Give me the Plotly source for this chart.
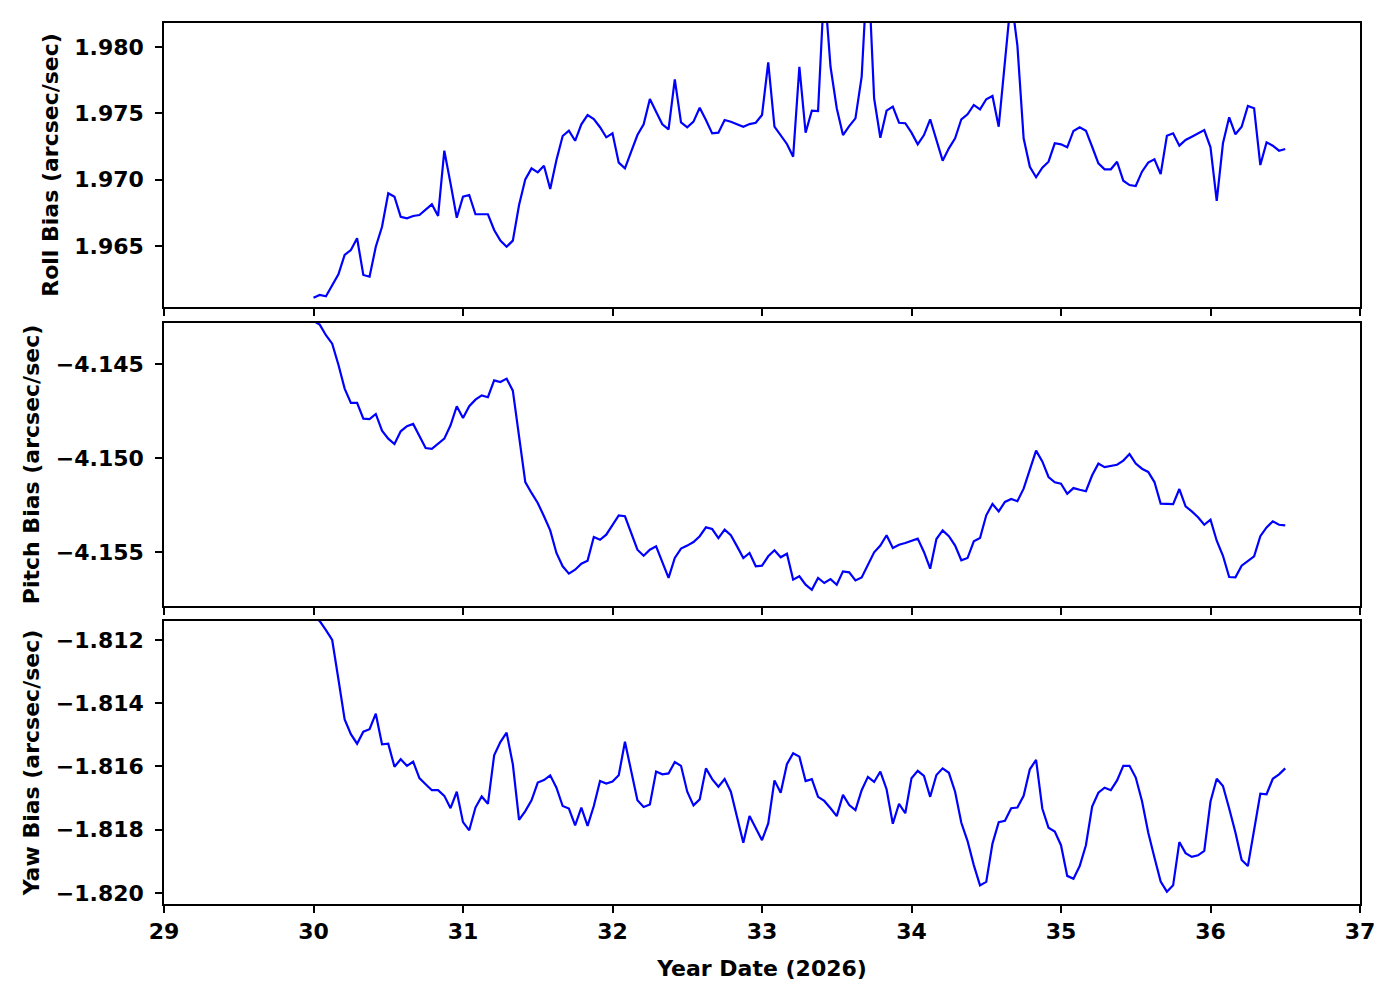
import numpy as np
import plotly.graph_objects as go

# hourly samples, Year Date 30.0 .. 36.5 (2026)
n_points = 157
start_day = 30.0
step_day = 1.0 / 24.0
x_days = [start_day + k * step_day for k in range(n_points)]

roll_bias = [
    1.96110, 1.96130, 1.96120, 1.96200, 1.96286, 1.96432, 1.96469, 1.96558, 1.96281, 1.96268,
    1.96494, 1.96645, 1.96897, 1.96871, 1.96720, 1.96708, 1.96726, 1.96733, 1.96776, 1.96814,
    1.96726, 1.97218, 1.96972, 1.96713, 1.96871, 1.96884, 1.96739, 1.96739, 1.96739, 1.96620,
    1.96540, 1.96494, 1.96540, 1.96809, 1.97002, 1.97085, 1.97055, 1.97105, 1.96929, 1.97148,
    1.97329, 1.97369, 1.97293, 1.97417, 1.97487, 1.97457, 1.97395, 1.97319, 1.97349, 1.97128,
    1.97085, 1.97211, 1.97336, 1.97417, 1.97608, 1.97512, 1.97417, 1.97379, 1.97756, 1.97432,
    1.97395, 1.97437, 1.97542, 1.97450, 1.97349, 1.97354, 1.97450, 1.97437, 1.97419, 1.97399,
    1.97419, 1.97429, 1.97487, 1.97885, 1.97399, 1.97336, 1.97269, 1.97173, 1.97851, 1.97354,
    1.97520, 1.97517, 1.98470, 1.97851, 1.97538, 1.97336, 1.97404, 1.97462, 1.97776, 1.98660,
    1.97613, 1.97316, 1.97520, 1.97550, 1.97429, 1.97425, 1.97354, 1.97266, 1.97336, 1.97455,
    1.97299, 1.97143, 1.97236, 1.97312, 1.97455, 1.97493, 1.97563, 1.97530, 1.97606, 1.97631,
    1.97399, 1.97910, 1.98380, 1.98010, 1.97312, 1.97097, 1.97018, 1.97090, 1.97135, 1.97274,
    1.97266, 1.97244, 1.97367, 1.97395, 1.97369, 1.97248, 1.97123, 1.97078, 1.97078, 1.97135,
    1.96992, 1.96959, 1.96952, 1.97060, 1.97128, 1.97153, 1.97042, 1.97331, 1.97349, 1.97256,
    1.97299, 1.97324, 1.97349, 1.97374, 1.97244, 1.96839, 1.97274, 1.97470, 1.97342, 1.97399,
    1.97555, 1.97538, 1.97110, 1.97281, 1.97256, 1.97218, 1.97231,
]

pitch_bias = [
    -4.14271, -4.14291, -4.14347, -4.14392, -4.14504, -4.14631, -4.14707, -4.14707, -4.14791, -4.14793,
    -4.14766, -4.14855, -4.14897, -4.14926, -4.14858, -4.14831, -4.14819, -4.14885, -4.14947, -4.14951,
    -4.14926, -4.14897, -4.14826, -4.14725, -4.14787, -4.14725, -4.14690, -4.14667, -4.14677, -4.14587,
    -4.14596, -4.14578, -4.14642, -4.14885, -4.15128, -4.15186, -4.15239, -4.15310, -4.15385, -4.15505,
    -4.15576, -4.15615, -4.15594, -4.15562, -4.15546, -4.15420, -4.15435, -4.15408, -4.15358, -4.15305,
    -4.15310, -4.15404, -4.15488, -4.15520, -4.15488, -4.15470, -4.15555, -4.15638, -4.15532, -4.15482,
    -4.15466, -4.15447, -4.15416, -4.15369, -4.15378, -4.15426, -4.15381, -4.15411, -4.15470, -4.15532,
    -4.15505, -4.15576, -4.15573, -4.15523, -4.15491, -4.15528, -4.15509, -4.15647, -4.15629, -4.15674,
    -4.15701, -4.15638, -4.15665, -4.15644, -4.15674, -4.15603, -4.15608, -4.15651, -4.15635, -4.15571,
    -4.15502, -4.15466, -4.15411, -4.15479, -4.15461, -4.15452, -4.15440, -4.15429, -4.15500, -4.15589,
    -4.15431, -4.15385, -4.15416, -4.15466, -4.15544, -4.15532, -4.15443, -4.15426, -4.15305, -4.15245,
    -4.15284, -4.15234, -4.15218, -4.15230, -4.15163, -4.15065, -4.14961, -4.15018, -4.15101, -4.15129,
    -4.15137, -4.15190, -4.15160, -4.15169, -4.15177, -4.15092, -4.15030, -4.15049, -4.15043, -4.15036,
    -4.15014, -4.14979, -4.15030, -4.15057, -4.15074, -4.15128, -4.15243, -4.15243, -4.15245, -4.15165,
    -4.15257, -4.15284, -4.15315, -4.15355, -4.15328, -4.15440, -4.15520, -4.15633, -4.15635, -4.15573,
    -4.15546, -4.15523, -4.15416, -4.15369, -4.15337, -4.15355, -4.15358,
]

yaw_bias = [
    -1.81127, -1.81140, -1.81169, -1.81200, -1.81324, -1.81451, -1.81498, -1.81528, -1.81490, -1.81482,
    -1.81433, -1.81530, -1.81528, -1.81601, -1.81577, -1.81598, -1.81585, -1.81637, -1.81656, -1.81675,
    -1.81675, -1.81693, -1.81732, -1.81680, -1.81776, -1.81802, -1.81730, -1.81695, -1.81718, -1.81565,
    -1.81523, -1.81493, -1.81593, -1.81769, -1.81741, -1.81707, -1.81651, -1.81643, -1.81628, -1.81667,
    -1.81725, -1.81733, -1.81786, -1.81730, -1.81788, -1.81725, -1.81646, -1.81654, -1.81648, -1.81628,
    -1.81522, -1.81620, -1.81707, -1.81728, -1.81720, -1.81616, -1.81625, -1.81622, -1.81586, -1.81598,
    -1.81680, -1.81723, -1.81704, -1.81606, -1.81640, -1.81664, -1.81640, -1.81680, -1.81757, -1.81841,
    -1.81757, -1.81797, -1.81833, -1.81780, -1.81644, -1.81683, -1.81593, -1.81558, -1.81569, -1.81646,
    -1.81640, -1.81696, -1.81709, -1.81732, -1.81757, -1.81690, -1.81722, -1.81738, -1.81675, -1.81633,
    -1.81649, -1.81616, -1.81672, -1.81781, -1.81718, -1.81748, -1.81637, -1.81614, -1.81630, -1.81696,
    -1.81627, -1.81606, -1.81620, -1.81680, -1.81778, -1.81836, -1.81912, -1.81976, -1.81965, -1.81844,
    -1.81776, -1.81772, -1.81732, -1.81730, -1.81693, -1.81609, -1.81579, -1.81733, -1.81794, -1.81806,
    -1.81849, -1.81946, -1.81955, -1.81915, -1.81849, -1.81727, -1.81683, -1.81667, -1.81675, -1.81644,
    -1.81598, -1.81598, -1.81635, -1.81709, -1.81809, -1.81888, -1.81964, -1.81996, -1.81976, -1.81839,
    -1.81874, -1.81886, -1.81881, -1.81867, -1.81711, -1.81639, -1.81662, -1.81733, -1.81809, -1.81896,
    -1.81915, -1.81801, -1.81686, -1.81688, -1.81639, -1.81625, -1.81606,
]

x_ticks = [29, 30, 31, 32, 33, 34, 35, 36, 37]
roll_ticks = [1.965, 1.970, 1.975, 1.980]
pitch_ticks = [-4.155, -4.150, -4.145]
yaw_ticks = [-1.820, -1.818, -1.816, -1.814, -1.812]

def fmt(v):
    s = f"{abs(v):.3f}"
    return ("\u2212" + s) if v < 0 else s

font_b = dict(family="DejaVu Sans", size=22, color="black", weight="bold")

fig = go.Figure()
line_style = dict(color="#0000ff", width=2.2)
fig.add_trace(go.Scatter(x=x_days, y=roll_bias, mode="lines", line=line_style, xaxis="x", yaxis="y", showlegend=False))
fig.add_trace(go.Scatter(x=x_days, y=pitch_bias, mode="lines", line=line_style, xaxis="x2", yaxis="y2", showlegend=False))
fig.add_trace(go.Scatter(x=x_days, y=yaw_bias, mode="lines", line=line_style, xaxis="x3", yaxis="y3", showlegend=False))

common_x = dict(range=[29, 37], tickvals=x_ticks, ticks="outside", ticklen=7, tickwidth=1.5,
                tickcolor="black", showline=True, linecolor="black", linewidth=1.5, mirror=True,
                showgrid=False, zeroline=False, tickfont=font_b)
common_y = dict(ticks="outside", ticklen=7, tickwidth=1.5, tickcolor="black", showline=True,
                linecolor="black", linewidth=1.5, mirror=True, showgrid=False, zeroline=False,
                tickfont=font_b, ticklabelstandoff=7)

fig.update_layout(
    width=1400, height=1000,
    margin=dict(l=156, r=48, t=15, b=104),
    paper_bgcolor="white", plot_bgcolor="white",
    xaxis=dict(common_x, domain=[0, 1], anchor="y", showticklabels=False, matches="x3"),
    xaxis2=dict(common_x, domain=[0, 1], anchor="y2", showticklabels=False, matches="x3"),
    xaxis3=dict(common_x, domain=[0, 1], anchor="y3", ticktext=[str(t) for t in x_ticks],
                title=dict(text="Year Date (2026)", font=font_b, standoff=17)),
    yaxis=dict(common_y, domain=[0.6777, 1.0], anchor="x", range=[1.96040, 1.98181],
               tickvals=roll_ticks, ticktext=[fmt(v) for v in roll_ticks],
               title=dict(text="Roll Bias (arcsec/sec)", font=font_b, standoff=10)),
    yaxis2=dict(common_y, domain=[0.3383, 0.6595], anchor="x2", range=[-4.15787, -4.14282],
                tickvals=pitch_ticks, ticktext=[fmt(v) for v in pitch_ticks],
                title=dict(text="Pitch Bias (arcsec/sec)", font=font_b, standoff=10)),
    yaxis3=dict(common_y, domain=[0.0, 0.3212], anchor="x3", range=[-1.82035, -1.81140],
                tickvals=yaw_ticks, ticktext=[fmt(v) for v in yaw_ticks],
                title=dict(text="Yaw Bias (arcsec/sec)", font=font_b, standoff=10)),
)

fig.write_html("out.html")
